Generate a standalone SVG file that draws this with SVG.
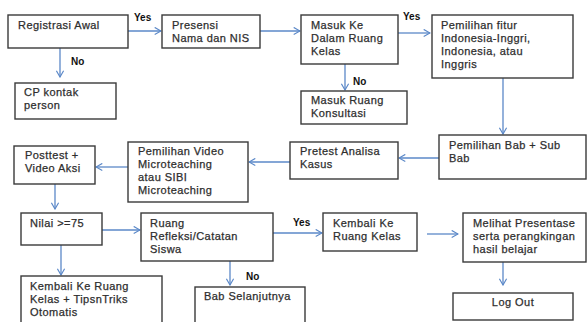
<svg xmlns="http://www.w3.org/2000/svg" width="588" height="322" viewBox="0 0 588 322">
<style>
.b{fill:#fff;stroke:#3a3a3a;stroke-width:1.4}
.t{font-family:"Liberation Sans",Arial,sans-serif;font-size:11px;letter-spacing:0.45px;fill:#2e2e2e;stroke:#2e2e2e;stroke-width:0.25}
.l{font-family:"Liberation Sans",Arial,sans-serif;font-size:10px;font-weight:bold;fill:#111}
.c{fill:none;stroke:#5b88c8;stroke-width:1.3;marker-end:url(#a)}
</style>
<defs>
<marker id="a" viewBox="0 0 10 10" refX="9" refY="5" markerWidth="9" markerHeight="9" markerUnits="userSpaceOnUse" orient="auto">
<polyline points="2,1 9,5 2,9" fill="none" stroke="#5b88c8" stroke-width="1.3"/>
</marker>
</defs>
<rect width="588" height="322" fill="#fff"/>
<g id="connectors">
<line class="c" x1="128" y1="31" x2="161" y2="31"/>
<line class="c" x1="60" y1="48" x2="60" y2="77"/>
<line class="c" x1="260" y1="31" x2="300" y2="31"/>
<line class="c" x1="398" y1="33" x2="430" y2="33"/>
<line class="c" x1="345" y1="64" x2="345" y2="90"/>
<line class="c" x1="503" y1="78" x2="503" y2="134"/>
<line class="c" x1="439" y1="158" x2="399" y2="158"/>
<line class="c" x1="290" y1="162" x2="249" y2="162"/>
<line class="c" x1="128" y1="167" x2="96" y2="167"/>
<line class="c" x1="55" y1="184" x2="55" y2="209"/>
<line class="c" x1="102" y1="230" x2="140" y2="230"/>
<line class="c" x1="61" y1="245" x2="61" y2="275"/>
<line class="c" x1="230" y1="261" x2="230" y2="285"/>
<line class="c" x1="273" y1="233" x2="322" y2="233"/>
<line class="c" x1="427" y1="234" x2="458" y2="234"/>
<line class="c" x1="503" y1="262" x2="503" y2="285"/>
<text class="l" x="134" y="21">Yes</text>
<text class="l" x="71" y="65">No</text>
<text class="l" x="403" y="20">Yes</text>
<text class="l" x="353" y="85">No</text>
<text class="l" x="293" y="226">Yes</text>
<text class="l" x="246" y="280">No</text>
</g>
<g id="n1"><rect class="b" x="8" y="15" width="120" height="33"/><text class="t" x="18" y="29">Registrasi Awal</text></g>
<g id="n2"><rect class="b" x="162" y="15" width="98" height="33"/><text class="t" x="172" y="29">Presensi</text><text class="t" x="172" y="42">Nama dan NIS</text></g>
<g id="n3"><rect class="b" x="15" y="83" width="101" height="36"/><text class="t" x="24" y="96">CP kontak</text><text class="t" x="24" y="109">person</text></g>
<g id="n4"><rect class="b" x="301" y="15" width="97" height="49"/><text class="t" x="311" y="29">Masuk Ke</text><text class="t" x="311" y="42">Dalam Ruang</text><text class="t" x="311" y="55">Kelas</text></g>
<g id="n5"><rect class="b" x="432" y="15" width="141" height="63"/><text class="t" x="441" y="29">Pemilihan fitur</text><text class="t" x="441" y="42">Indonesia-Inggri,</text><text class="t" x="441" y="55">Indonesia, atau</text><text class="t" x="441" y="68">Inggris</text></g>
<g id="n6"><rect class="b" x="301" y="91" width="106" height="33"/><text class="t" x="311" y="104">Masuk Ruang</text><text class="t" x="311" y="117">Konsultasi</text></g>
<g id="n7"><rect class="b" x="439" y="135" width="147" height="44"/><text class="t" x="449" y="149">Pemilihan Bab + Sub</text><text class="t" x="449" y="162">Bab</text></g>
<g id="n8"><rect class="b" x="290" y="142" width="108" height="37"/><text class="t" x="300" y="155">Pretest Analisa</text><text class="t" x="300" y="168">Kasus</text></g>
<g id="n9"><rect class="b" x="128" y="142" width="120" height="60"/><text class="t" x="138" y="155">Pemilihan Video</text><text class="t" x="138" y="168">Microteaching</text><text class="t" x="138" y="181">atau SIBI</text><text class="t" x="138" y="194">Microteaching</text></g>
<g id="n10"><rect class="b" x="14" y="146" width="81" height="38"/><text class="t" x="25" y="159">Posttest +</text><text class="t" x="25" y="172">Video Aksi</text></g>
<g id="n11"><rect class="b" x="21" y="213" width="81" height="32"/><text class="t" x="30" y="227">Nilai &gt;=75</text></g>
<g id="n12"><rect class="b" x="141" y="213" width="132" height="48"/><text class="t" x="150" y="227">Ruang</text><text class="t" x="150" y="240">Refleksi/Catatan</text><text class="t" x="150" y="253">Siswa</text></g>
<g id="n13"><rect class="b" x="21" y="276" width="141" height="50"/><text class="t" x="30" y="290">Kembali Ke Ruang</text><text class="t" x="30" y="303">Kelas + TipsnTriks</text><text class="t" x="30" y="316">Otomatis</text></g>
<g id="n14"><rect class="b" x="195" y="287" width="110" height="40"/><text class="t" x="204" y="300">Bab Selanjutnya</text></g>
<g id="n15"><rect class="b" x="323" y="213" width="94" height="38"/><text class="t" x="333" y="227">Kembali Ke</text><text class="t" x="333" y="240">Ruang Kelas</text></g>
<g id="n16"><rect class="b" x="463" y="213" width="123" height="49"/><text class="t" x="473" y="227">Melihat Presentase</text><text class="t" x="473" y="240">serta perangkingan</text><text class="t" x="473" y="253">hasil belajar</text></g>
<g id="n17"><rect class="b" x="453" y="293" width="120" height="27"/><text class="t" x="513" y="306" text-anchor="middle">Log Out</text></g>
</svg>
